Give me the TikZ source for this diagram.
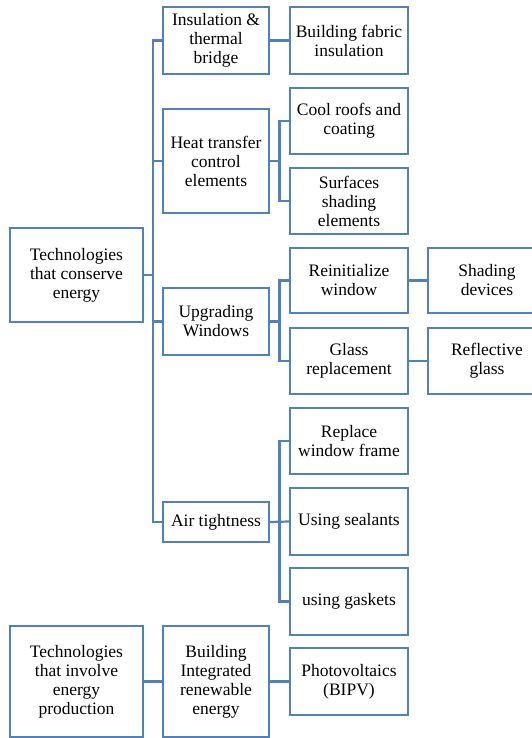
\documentclass[tikz,border=0pt]{standalone}
\usepackage{fontspec}
\setmainfont{Liberation Serif}
\definecolor{boxblue}{RGB}{79,129,189}
\tikzset{
  box/.style={draw=boxblue, line width=2.2pt, align=center, inner sep=0pt, fill=white,
    font=\fontsize{17.5pt}{19pt}\selectfont},
  conn/.style={draw=boxblue, line width=2.2pt},
}
\begin{document}
\begin{tikzpicture}[x=1pt,y=-1pt]
\useasboundingbox (0,0) rectangle (532,738);
\begin{scope}
\clip (0,0) rectangle (532,738);
% level 0
\node[box, minimum width=133pt, minimum height=94pt] (root) at (76.5,275) {Technologies\\that conserve\\energy};
\node[box, minimum width=133pt, minimum height=111pt] (prod) at (76.5,681.5) {Technologies\\that involve\\energy\\production};
% level 1
\node[box, minimum width=106pt, minimum height=67pt] (ins) at (216,40.5) {Insulation \&\\thermal\\bridge};
\node[box, minimum width=106pt, minimum height=104pt] (heat) at (216,161) {Heat transfer\\control\\elements};
\node[box, minimum width=106pt, minimum height=67pt] (upg) at (216,321.5) {Upgrading\\Windows};
\node[box, minimum width=106pt, minimum height=40pt] (air) at (216,522) {Air tightness};
\node[box, minimum width=106pt, minimum height=111pt] (bire) at (216,681.5) {Building\\Integrated\\renewable\\energy};
% level 2
\node[box, minimum width=118pt, minimum height=67pt] (bfi) at (349,40.5) {Building fabric\\insulation};
\node[box, minimum width=118pt, minimum height=66pt] (cool) at (349,121) {Cool roofs and\\coating};
\node[box, minimum width=118pt, minimum height=66pt] (surf) at (349,201) {Surfaces\\shading\\elements};
\node[box, minimum width=118pt, minimum height=65pt] (rein) at (349,280.5) {Reinitialize\\window};
\node[box, minimum width=118pt, minimum height=66pt] (glass) at (349,361) {Glass\\replacement};
\node[box, minimum width=118pt, minimum height=66pt] (frame) at (349,441) {Replace\\window frame};
\node[box, minimum width=118pt, minimum height=67pt] (seal) at (349,521.5) {Using sealants};
\node[box, minimum width=118pt, minimum height=67pt] (gask) at (349,601.5) {using gaskets};
\node[box, minimum width=118pt, minimum height=67pt] (pv) at (349,681.5) {Photovoltaics\\(BIPV)};
% level 3
\node[box, minimum width=118pt, minimum height=65pt] (shad) at (487,280.5) {Shading\\devices};
\node[box, minimum width=118pt, minimum height=66pt] (refl) at (487,361) {Reflective\\glass};
% trunk coordinates
\coordinate (t0) at (153,0);
\coordinate (t1) at (279.5,0);
% main trunk
\draw[conn] (ins.west) -| (t0 |- air.west) -- (air.west);
\draw[conn] (root.east) -- (root.east -| t0);
\draw[conn] (heat.west) -- (heat.west -| t0);
\draw[conn] (upg.west) -- (upg.west -| t0);
% level 1 -> 2
\draw[conn] (ins.east) -- (bfi.west);
\draw[conn] (cool.west) -| (t1 |- surf.west) -- (surf.west);
\draw[conn] (heat.east) -- (heat.east -| t1);
\draw[conn] (rein.west) -| (t1 |- glass.west) -- (glass.west);
\draw[conn] (upg.east) -- (upg.east -| t1);
\draw[conn] (frame.west) -| (t1 |- gask.west) -- (gask.west);
\draw[conn] (air.east) -- (seal.west);
% level 2 -> 3
\draw[conn] (rein.east) -- (shad.west);
\draw[conn] (glass.east) -- (refl.west);
% bottom
\draw[conn] (prod.east) -- (bire.west);
\draw[conn] (bire.east) -- (pv.west);
\end{scope}
\end{tikzpicture}
\end{document}
